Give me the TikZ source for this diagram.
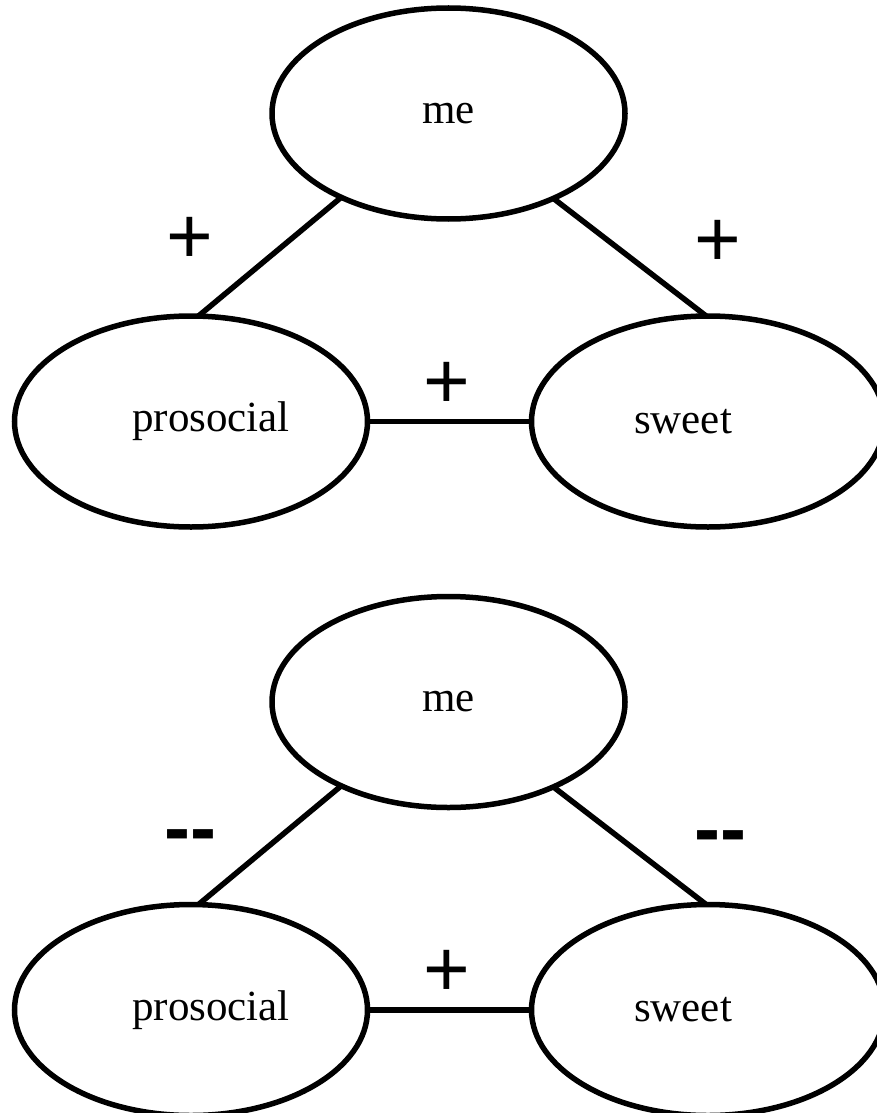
\documentclass[tikz,border=0pt]{standalone}
\usepackage{fontspec}
\setmainfont{Liberation Serif}
\newfontfamily\labelfont{Liberation Sans}
\usetikzlibrary{shapes.geometric}
\tikzset{
  ell/.style={ellipse, draw, line width=5.5pt, minimum width=353pt, minimum height=211pt, inner sep=0pt, outer sep=0pt, fill=white, font=\fontsize{43}{50}\selectfont},
  conn/.style={line width=5.5pt},
  possign/.style={anchor=base, inner sep=0pt, font=\labelfont\fontsize{80}{90}\selectfont},
  negsign/.style={anchor=base, inner sep=0pt, font=\labelfont\bfseries\fontsize{78}{90}\selectfont}
}
\begin{document}
\begin{tikzpicture}[x=1pt,y=1pt]
\useasboundingbox (0,0) rectangle (877,-1113);
\fill[white] (0,0) rectangle (877,-1113);
\clip (0,0) rectangle (877,-1113);
% top diagram
\node[ell] (me1) at (448.5,-113.5) {me};
\node[ell] (pro1) at (191,-421.5) {\hspace*{40pt}prosocial};
\node[ell] (sw1) at (708,-421.5) {sweet\hspace*{50pt}};
\draw[conn] (me1.218.8) -- (pro1.86.7);
\draw[conn] (me1.321.4) -- (sw1.91.6);
\draw[conn] (pro1.east) -- (sw1.west);
\node[possign] (s1) at (190,-263) {+};
\node[possign] (s2) at (718,-266) {+};
\node[possign] (s3) at (447,-408) {+};
% bottom diagram
\node[ell] (me2) at (448.5,-702) {me};
\node[ell] (pro2) at (191,-1010) {\hspace*{40pt}prosocial};
\node[ell] (sw2) at (708,-1010) {sweet\hspace*{50pt}};
\draw[conn] (me2.218.8) -- (pro2.86.7);
\draw[conn] (me2.321.4) -- (sw2.91.6);
\draw[conn] (pro2.east) -- (sw2.west);
\node[negsign] (n1) at (190,-854) {-\kern0pt-};
\node[negsign] (n2) at (720,-855) {-\kern0pt-};
\node[possign] (s4) at (447,-996.5) {+};
\end{tikzpicture}
\end{document}
